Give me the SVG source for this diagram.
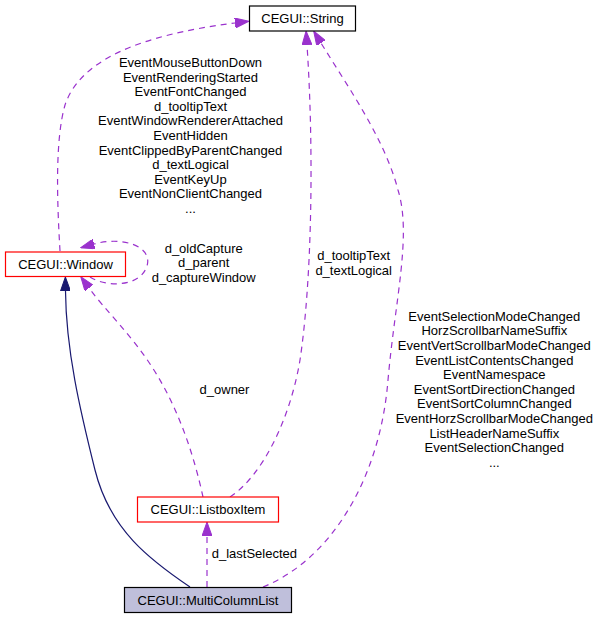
<svg xmlns="http://www.w3.org/2000/svg" width="597" height="619" viewBox="0 0 597 619">
<style>
text { font-family: "Liberation Sans", Arial, Helvetica, sans-serif; font-size: 13px; fill: #000; }
.c { text-anchor: middle; }
.node { stroke-width: 1.2; }
.red { fill: #ffffff; stroke: #ff0000; }
.blk { fill: #ffffff; stroke: #000000; }
.cur { fill: #bfbfdb; stroke: #000000; }
.dep { fill: none; stroke: #9a32cd; stroke-width: 1.2; stroke-dasharray: 6,5; marker-end: url(#ap); }
.inh { fill: none; stroke: #191970; stroke-width: 1.2; marker-end: url(#an); }
</style>
<defs>
<marker id="ap" viewBox="0 0 14 10" refX="0" refY="5" markerWidth="14" markerHeight="10" markerUnits="userSpaceOnUse" orient="auto">
<path d="M0,0 L14,5 L0,10 z" fill="#9a32cd" stroke="#9a32cd" stroke-width="1" stroke-dasharray="none"/>
</marker>
<marker id="an" viewBox="0 0 14 10" refX="0" refY="5" markerWidth="14" markerHeight="10" markerUnits="userSpaceOnUse" orient="auto">
<path d="M0,0 L14,5 L0,10 z" fill="#191970" stroke="#191970" stroke-width="1"/>
</marker>
</defs>
<rect width="597" height="619" fill="#ffffff"/>
<g id="connectors">
<path class="dep" d="M60,251 C57,200 55,140 65,105 C80,60 140,35 235,23"/>
<path class="dep" d="M90,277 C105,287 140,288 147,266 C153,246 122,236 94,244"/>
<path class="dep" d="M203,497 C195,460 180,410 152,367 C130,333 105,310 89,288"/>
<path class="inh" d="M190,587 C150,560 110,530 95,470 C80,410 66,350 65.5,291"/>
<path class="dep" d="M230,497 C262,476 290,420 300,360 C312,280 314,150 307,45"/>
<path class="dep" d="M263,587 C330,560 380,480 388,380 C395,300 412,235 398,190 C385,140 350,90 321,43"/>
<path class="dep" d="M207,587 L207,536"/>
<g id="labels">
<text class="c" x="190.5" y="67">EventMouseButtonDown</text>
<text class="c" x="190.5" y="81.6">EventRenderingStarted</text>
<text class="c" x="190.5" y="96.2">EventFontChanged</text>
<text class="c" x="190.5" y="110.8">d_tooltipText</text>
<text class="c" x="190.5" y="125.4">EventWindowRendererAttached</text>
<text class="c" x="190.5" y="140">EventHidden</text>
<text class="c" x="190.5" y="154.6">EventClippedByParentChanged</text>
<text class="c" x="190.5" y="169.2">d_textLogical</text>
<text class="c" x="190.5" y="183.8">EventKeyUp</text>
<text class="c" x="190.5" y="198.4">EventNonClientChanged</text>
<text class="c" x="190.5" y="213">...</text>
<text class="c" x="203.7" y="252.7">d_oldCapture</text>
<text class="c" x="203.7" y="267.3">d_parent</text>
<text class="c" x="203.7" y="282">d_captureWindow</text>
<text class="c" x="353.7" y="260.4">d_tooltipText</text>
<text class="c" x="353.7" y="275">d_textLogical</text>
<text class="c" x="224.5" y="394">d_owner</text>
<text x="211.7" y="558">d_lastSelected</text>
<text class="c" x="494.3" y="320.7">EventSelectionModeChanged</text>
<text class="c" x="494.3" y="335.3">HorzScrollbarNameSuffix</text>
<text class="c" x="494.3" y="349.9">EventVertScrollbarModeChanged</text>
<text class="c" x="494.3" y="364.5">EventListContentsChanged</text>
<text class="c" x="494.3" y="379.1">EventNamespace</text>
<text class="c" x="494.3" y="393.7">EventSortDirectionChanged</text>
<text class="c" x="494.3" y="408.3">EventSortColumnChanged</text>
<text class="c" x="494.3" y="422.9">EventHorzScrollbarModeChanged</text>
<text class="c" x="494.3" y="437.5">ListHeaderNameSuffix</text>
<text class="c" x="494.3" y="452.1">EventSelectionChanged</text>
<text class="c" x="494.3" y="466.7">...</text>
</g>
</g>
<g id="node-string">
<rect class="node blk" x="249.5" y="6" width="106" height="25"/>
<text class="c" x="302.5" y="23">CEGUI::String</text>
</g>
<g id="node-window">
<rect class="node red" x="5.5" y="252" width="120" height="24.5"/>
<text class="c" x="65.5" y="268.7">CEGUI::Window</text>
</g>
<g id="node-listboxitem">
<rect class="node red" x="137.5" y="497" width="141" height="25"/>
<text class="c" x="208" y="513.5">CEGUI::ListboxItem</text>
</g>
<g id="node-multicolumnlist">
<rect class="node cur" x="124.5" y="587.5" width="167" height="25"/>
<text class="c" x="208" y="604.5">CEGUI::MultiColumnList</text>
</g>
</svg>
